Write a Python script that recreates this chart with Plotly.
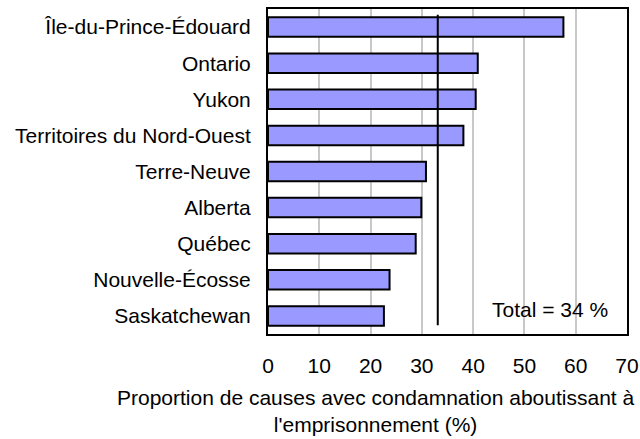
import plotly.graph_objects as go

provinces = ["Île-du-Prince-Édouard", "Ontario", "Yukon", "Territoires du Nord-Ouest",
             "Terre-Neuve", "Alberta", "Québec", "Nouvelle-Écosse", "Saskatchewan"]
values = [57.6, 40.9, 40.5, 38.1, 30.8, 29.9, 28.8, 23.7, 22.6]
total_line = 33.1
total_label = "Total = 34 %"
x_ticks = [0, 10, 20, 30, 40, 50, 60, 70]
x_title = "Proportion de causes avec condamnation aboutissant à<br>l'emprisonnement (%)"

FONT = "Liberation Sans, Arial, sans-serif"
ypos = list(range(len(provinces)))

fig = go.Figure()
fig.add_trace(go.Bar(
    x=values, y=ypos, orientation="h", width=0.54,
    marker=dict(color="#9999FF", line=dict(color="black", width=2)),
    showlegend=False, hoverinfo="x+text", text=provinces, textposition="none",
))
fig.add_shape(type="line", xref="x", yref="paper", x0=total_line, x1=total_line,
              y0=0.027, y1=0.982, line=dict(color="black", width=2))
fig.add_annotation(text=total_label, xref="x", yref="paper", x=54.9, y=0.076,
                   showarrow=False, xanchor="center", yanchor="middle",
                   font=dict(family=FONT, size=21, color="black"))
fig.add_annotation(text=x_title, xref="paper", yref="paper", x=0.300, y=-0.153,
                   showarrow=False, xanchor="center", yanchor="top", align="center",
                   font=dict(family=FONT, size=21, color="black"))

fig.update_layout(
    width=640, height=439,
    margin=dict(l=268, r=12.5, t=9.3, b=104.5, autoexpand=False),
    paper_bgcolor="white", plot_bgcolor="white",
    font=dict(family=FONT, size=21, color="black"),
    bargap=0.46,
)
fig.update_xaxes(range=[0, 70], tickvals=x_ticks, ticktext=[str(t) for t in x_ticks],
                 showgrid=True, gridcolor="#c8c8c8", gridwidth=1.5,
                 showline=True, linecolor="black", linewidth=2, mirror=True,
                 ticks="", zeroline=False, ticklabelstandoff=12, automargin=False,
                 tickfont=dict(family=FONT, size=21, color="black"))
fig.update_yaxes(range=[8.5, -0.5], tickvals=ypos, ticktext=provinces,
                 showgrid=False, showline=True, linecolor="black", linewidth=2, mirror=True,
                 ticks="", zeroline=False, ticklabelstandoff=11, automargin=False,
                 tickfont=dict(family=FONT, size=21, color="black"))

fig.write_html("out.html", config={"displayModeBar": False},
               post_script="document.body.style.margin='0';document.body.style.overflow='hidden';")
